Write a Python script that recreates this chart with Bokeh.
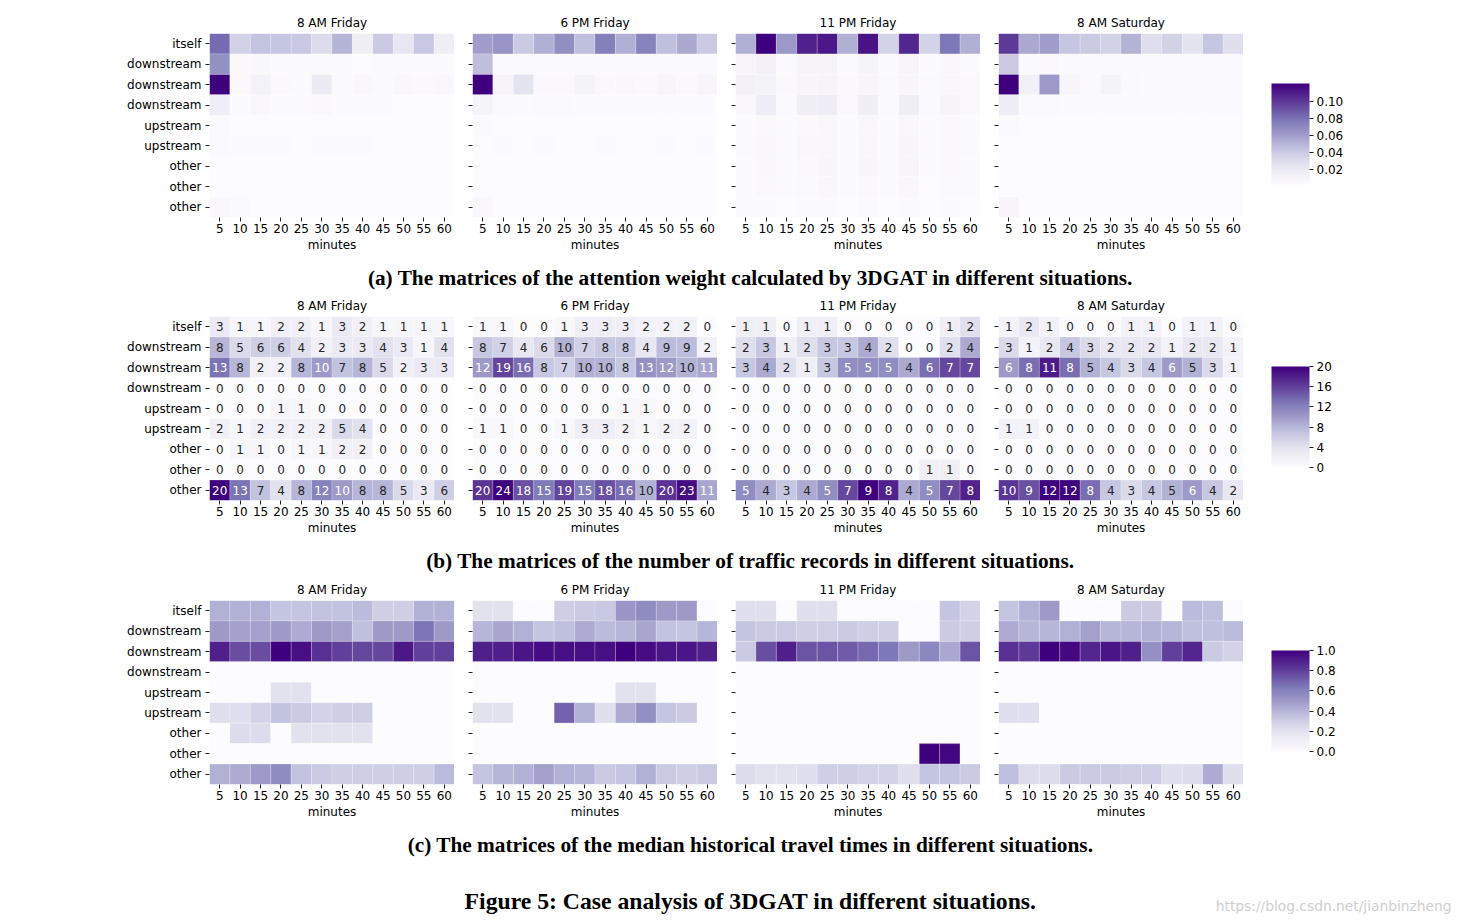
import numpy as np
from bokeh.plotting import figure
from bokeh.layouts import row, column
from bokeh.models import (ColumnDataSource, LinearColorMapper, ColorBar, FixedTicker,
                          Range1d, PrintfTickFormatter, Spacer)
from bokeh.core.properties import value
from bokeh.palettes import Purples9
from bokeh.embed import file_html
from bokeh.resources import INLINE

# ---------------- data ----------------
minutes = [5, 10, 15, 20, 25, 30, 35, 40, 45, 50, 55, 60]
row_labels = ["itself", "downstream", "downstream", "downstream",
              "upstream", "upstream", "other", "other", "other"]
panel_titles = ["8 AM Friday", "6 PM Friday", "11 PM Friday", "8 AM Saturday"]
captions = [
    "(a) The matrices of the attention weight calculated by 3DGAT in different situations.",
    "(b) The matrices of the number of traffic records in different situations.",
    "(c) The matrices of the median historical travel times in different situations.",
]
figure_caption = "Figure 5: Case analysis of 3DGAT in different situations."
watermark = "https://blog.csdn.net/jianbinzheng"

# (a) attention weights
attn_8am_fri = [
    [0.082, 0.036, 0.043, 0.042, 0.041, 0.030, 0.050, 0.016, 0.040, 0.022, 0.041, 0.016],
    [0.067, 0.005, 0.007, 0.004, 0.004, 0.004, 0.004, 0.002, 0.004, 0.003, 0.003, 0.003],
    [0.121, 0.005, 0.012, 0.005, 0.004, 0.019, 0.004, 0.006, 0.004, 0.006, 0.005, 0.006],
    [0.017, 0.003, 0.006, 0.003, 0.003, 0.005, 0.003, 0.003, 0.003, 0.002, 0.002, 0.002],
    [0.004, 0.002, 0.002, 0.002, 0.002, 0.002, 0.002, 0.002, 0.002, 0.002, 0.002, 0.002],
    [0.004, 0.003, 0.003, 0.003, 0.002, 0.003, 0.003, 0.003, 0.002, 0.002, 0.002, 0.002],
    [0.002, 0.002, 0.002, 0.002, 0.002, 0.002, 0.002, 0.002, 0.002, 0.002, 0.002, 0.002],
    [0.002, 0.002, 0.002, 0.002, 0.002, 0.002, 0.002, 0.002, 0.002, 0.002, 0.002, 0.002],
    [0.006, 0.004, 0.002, 0.002, 0.002, 0.002, 0.002, 0.002, 0.002, 0.002, 0.002, 0.002],
]
attn_6pm_fri = [
    [0.059, 0.063, 0.039, 0.051, 0.066, 0.044, 0.073, 0.051, 0.071, 0.044, 0.054, 0.039],
    [0.045, 0.004, 0.004, 0.004, 0.004, 0.004, 0.004, 0.004, 0.004, 0.004, 0.004, 0.004],
    [0.118, 0.009, 0.024, 0.005, 0.005, 0.011, 0.005, 0.006, 0.005, 0.008, 0.005, 0.008],
    [0.010, 0.004, 0.003, 0.004, 0.004, 0.003, 0.003, 0.003, 0.003, 0.003, 0.003, 0.003],
    [0.003, 0.002, 0.002, 0.002, 0.002, 0.002, 0.002, 0.002, 0.002, 0.002, 0.002, 0.002],
    [0.002, 0.003, 0.002, 0.003, 0.002, 0.002, 0.003, 0.002, 0.002, 0.003, 0.002, 0.003],
    [0.002, 0.002, 0.002, 0.002, 0.002, 0.002, 0.002, 0.002, 0.002, 0.002, 0.002, 0.002],
    [0.002, 0.002, 0.002, 0.002, 0.002, 0.002, 0.002, 0.002, 0.002, 0.002, 0.002, 0.002],
    [0.006, 0.002, 0.002, 0.002, 0.002, 0.002, 0.002, 0.002, 0.002, 0.002, 0.002, 0.002],
]
attn_11pm_fri = [
    [0.051, 0.118, 0.061, 0.106, 0.109, 0.051, 0.111, 0.034, 0.104, 0.034, 0.076, 0.051],
    [0.008, 0.012, 0.004, 0.009, 0.009, 0.004, 0.010, 0.003, 0.008, 0.003, 0.006, 0.004],
    [0.012, 0.011, 0.005, 0.008, 0.009, 0.005, 0.008, 0.004, 0.007, 0.004, 0.006, 0.005],
    [0.006, 0.017, 0.004, 0.015, 0.017, 0.005, 0.015, 0.004, 0.016, 0.004, 0.009, 0.005],
    [0.003, 0.005, 0.003, 0.005, 0.006, 0.003, 0.006, 0.003, 0.006, 0.003, 0.005, 0.003],
    [0.004, 0.006, 0.003, 0.006, 0.006, 0.003, 0.006, 0.003, 0.007, 0.003, 0.005, 0.004],
    [0.003, 0.006, 0.003, 0.005, 0.007, 0.003, 0.007, 0.003, 0.008, 0.003, 0.005, 0.003],
    [0.003, 0.005, 0.003, 0.004, 0.006, 0.003, 0.005, 0.003, 0.006, 0.002, 0.004, 0.003],
    [0.003, 0.003, 0.002, 0.003, 0.003, 0.002, 0.004, 0.002, 0.003, 0.002, 0.003, 0.002],
]
attn_8am_sat = [
    [0.097, 0.054, 0.059, 0.041, 0.039, 0.035, 0.050, 0.028, 0.035, 0.024, 0.041, 0.027],
    [0.039, 0.004, 0.005, 0.004, 0.004, 0.004, 0.004, 0.004, 0.004, 0.004, 0.004, 0.004],
    [0.118, 0.014, 0.061, 0.008, 0.004, 0.011, 0.004, 0.003, 0.004, 0.004, 0.004, 0.004],
    [0.017, 0.004, 0.004, 0.003, 0.003, 0.003, 0.003, 0.003, 0.003, 0.003, 0.003, 0.003],
    [0.004, 0.002, 0.002, 0.002, 0.002, 0.002, 0.002, 0.002, 0.002, 0.002, 0.002, 0.002],
    [0.002, 0.002, 0.002, 0.002, 0.002, 0.002, 0.002, 0.002, 0.002, 0.002, 0.002, 0.002],
    [0.002, 0.002, 0.002, 0.002, 0.002, 0.002, 0.002, 0.002, 0.002, 0.002, 0.002, 0.002],
    [0.002, 0.002, 0.002, 0.002, 0.002, 0.002, 0.002, 0.002, 0.002, 0.002, 0.002, 0.002],
    [0.008, 0.002, 0.002, 0.002, 0.002, 0.002, 0.002, 0.002, 0.002, 0.002, 0.002, 0.002],
]

# (b) number of traffic records
count_8am_fri = [
    [3, 1, 1, 2, 2, 1, 3, 2, 1, 1, 1, 1],
    [8, 5, 6, 6, 4, 2, 3, 3, 4, 3, 1, 4],
    [13, 8, 2, 2, 8, 10, 7, 8, 5, 2, 3, 3],
    [0, 0, 0, 0, 0, 0, 0, 0, 0, 0, 0, 0],
    [0, 0, 0, 1, 1, 0, 0, 0, 0, 0, 0, 0],
    [2, 1, 2, 2, 2, 2, 5, 4, 0, 0, 0, 0],
    [0, 1, 1, 0, 1, 1, 2, 2, 0, 0, 0, 0],
    [0, 0, 0, 0, 0, 0, 0, 0, 0, 0, 0, 0],
    [20, 13, 7, 4, 8, 12, 10, 8, 8, 5, 3, 6],
]
count_6pm_fri = [
    [1, 1, 0, 0, 1, 3, 3, 3, 2, 2, 2, 0],
    [8, 7, 4, 6, 10, 7, 8, 8, 4, 9, 9, 2],
    [12, 19, 16, 8, 7, 10, 10, 8, 13, 12, 10, 11],
    [0, 0, 0, 0, 0, 0, 0, 0, 0, 0, 0, 0],
    [0, 0, 0, 0, 0, 0, 0, 1, 1, 0, 0, 0],
    [1, 1, 0, 0, 1, 3, 3, 2, 1, 2, 2, 0],
    [0, 0, 0, 0, 0, 0, 0, 0, 0, 0, 0, 0],
    [0, 0, 0, 0, 0, 0, 0, 0, 0, 0, 0, 0],
    [20, 24, 18, 15, 19, 15, 18, 16, 10, 20, 23, 11],
]
count_11pm_fri = [
    [1, 1, 0, 1, 1, 0, 0, 0, 0, 0, 1, 2],
    [2, 3, 1, 2, 3, 3, 4, 2, 0, 0, 2, 4],
    [3, 4, 2, 1, 3, 5, 5, 5, 4, 6, 7, 7],
    [0, 0, 0, 0, 0, 0, 0, 0, 0, 0, 0, 0],
    [0, 0, 0, 0, 0, 0, 0, 0, 0, 0, 0, 0],
    [0, 0, 0, 0, 0, 0, 0, 0, 0, 0, 0, 0],
    [0, 0, 0, 0, 0, 0, 0, 0, 0, 0, 0, 0],
    [0, 0, 0, 0, 0, 0, 0, 0, 0, 1, 1, 0],
    [5, 4, 3, 4, 5, 7, 9, 8, 4, 5, 7, 8],
]
count_8am_sat = [
    [1, 2, 1, 0, 0, 0, 1, 1, 0, 1, 1, 0],
    [3, 1, 2, 4, 3, 2, 2, 2, 1, 2, 2, 1],
    [6, 8, 11, 8, 5, 4, 3, 4, 6, 5, 3, 1],
    [0, 0, 0, 0, 0, 0, 0, 0, 0, 0, 0, 0],
    [0, 0, 0, 0, 0, 0, 0, 0, 0, 0, 0, 0],
    [1, 1, 0, 0, 0, 0, 0, 0, 0, 0, 0, 0],
    [0, 0, 0, 0, 0, 0, 0, 0, 0, 0, 0, 0],
    [0, 0, 0, 0, 0, 0, 0, 0, 0, 0, 0, 0],
    [10, 9, 12, 12, 8, 4, 3, 4, 5, 6, 4, 2],
]

# (c) median historical travel times (normalised)
time_8am_fri = [
    [0.42, 0.42, 0.42, 0.34, 0.34, 0.35, 0.35, 0.38, 0.30, 0.30, 0.42, 0.42],
    [0.50, 0.48, 0.48, 0.50, 0.44, 0.50, 0.48, 0.36, 0.50, 0.50, 0.65, 0.50],
    [0.90, 0.76, 0.76, 1.00, 0.95, 0.85, 0.80, 0.78, 0.78, 0.92, 0.80, 0.80],
    [0.0, 0.0, 0.0, 0.0, 0.0, 0.0, 0.0, 0.0, 0.0, 0.0, 0.0, 0.0],
    [0.0, 0.0, 0.0, 0.20, 0.20, 0.0, 0.0, 0.0, 0.0, 0.0, 0.0, 0.0],
    [0.22, 0.22, 0.28, 0.35, 0.32, 0.28, 0.30, 0.30, 0.0, 0.0, 0.0, 0.0],
    [0.0, 0.24, 0.24, 0.0, 0.20, 0.20, 0.20, 0.20, 0.0, 0.0, 0.0, 0.0],
    [0.0, 0.0, 0.0, 0.0, 0.0, 0.0, 0.0, 0.0, 0.0, 0.0, 0.0, 0.0],
    [0.42, 0.44, 0.50, 0.56, 0.35, 0.32, 0.30, 0.30, 0.30, 0.30, 0.30, 0.38],
]
time_6pm_fri = [
    [0.20, 0.20, 0.0, 0.0, 0.30, 0.32, 0.33, 0.52, 0.56, 0.50, 0.50, 0.0],
    [0.40, 0.46, 0.42, 0.34, 0.36, 0.44, 0.38, 0.40, 0.46, 0.35, 0.34, 0.40],
    [0.90, 0.90, 0.93, 0.96, 0.95, 0.95, 0.95, 1.00, 0.96, 0.93, 0.93, 0.90],
    [0.0, 0.0, 0.0, 0.0, 0.0, 0.0, 0.0, 0.0, 0.0, 0.0, 0.0, 0.0],
    [0.0, 0.0, 0.0, 0.0, 0.0, 0.0, 0.0, 0.20, 0.20, 0.0, 0.0, 0.0],
    [0.20, 0.20, 0.0, 0.0, 0.70, 0.42, 0.22, 0.44, 0.55, 0.34, 0.32, 0.0],
    [0.0, 0.0, 0.0, 0.0, 0.0, 0.0, 0.0, 0.0, 0.0, 0.0, 0.0, 0.0],
    [0.0, 0.0, 0.0, 0.0, 0.0, 0.0, 0.0, 0.0, 0.0, 0.0, 0.0, 0.0],
    [0.34, 0.40, 0.42, 0.48, 0.42, 0.40, 0.32, 0.34, 0.42, 0.32, 0.30, 0.32],
]
time_11pm_fri = [
    [0.22, 0.22, 0.0, 0.22, 0.22, 0.0, 0.0, 0.0, 0.0, 0.0, 0.34, 0.28],
    [0.34, 0.32, 0.32, 0.30, 0.30, 0.32, 0.30, 0.30, 0.0, 0.0, 0.32, 0.30],
    [0.32, 0.76, 0.90, 0.74, 0.74, 0.72, 0.68, 0.64, 0.50, 0.58, 0.45, 0.74],
    [0.0, 0.0, 0.0, 0.0, 0.0, 0.0, 0.0, 0.0, 0.0, 0.0, 0.0, 0.0],
    [0.0, 0.0, 0.0, 0.0, 0.0, 0.0, 0.0, 0.0, 0.0, 0.0, 0.0, 0.0],
    [0.0, 0.0, 0.0, 0.0, 0.0, 0.0, 0.0, 0.0, 0.0, 0.0, 0.0, 0.0],
    [0.0, 0.0, 0.0, 0.0, 0.0, 0.0, 0.0, 0.0, 0.0, 0.0, 0.0, 0.0],
    [0.0, 0.0, 0.0, 0.0, 0.0, 0.0, 0.0, 0.0, 0.0, 1.00, 0.98, 0.0],
    [0.24, 0.20, 0.20, 0.22, 0.30, 0.30, 0.28, 0.28, 0.22, 0.34, 0.34, 0.32],
]
time_8am_sat = [
    [0.34, 0.42, 0.50, 0.0, 0.0, 0.0, 0.32, 0.32, 0.0, 0.38, 0.36, 0.0],
    [0.44, 0.40, 0.40, 0.42, 0.48, 0.40, 0.40, 0.42, 0.40, 0.36, 0.36, 0.38],
    [0.85, 0.82, 1.00, 0.97, 0.88, 0.93, 0.90, 0.54, 0.80, 0.88, 0.32, 0.28],
    [0.0, 0.0, 0.0, 0.0, 0.0, 0.0, 0.0, 0.0, 0.0, 0.0, 0.0, 0.0],
    [0.0, 0.0, 0.0, 0.0, 0.0, 0.0, 0.0, 0.0, 0.0, 0.0, 0.0, 0.0],
    [0.22, 0.22, 0.0, 0.0, 0.0, 0.0, 0.0, 0.0, 0.0, 0.0, 0.0, 0.0],
    [0.0, 0.0, 0.0, 0.0, 0.0, 0.0, 0.0, 0.0, 0.0, 0.0, 0.0, 0.0],
    [0.0, 0.0, 0.0, 0.0, 0.0, 0.0, 0.0, 0.0, 0.0, 0.0, 0.0, 0.0],
    [0.36, 0.24, 0.24, 0.32, 0.32, 0.32, 0.30, 0.30, 0.22, 0.24, 0.44, 0.22],
]

attn_panels = [attn_8am_fri, attn_6pm_fri, attn_11pm_fri, attn_8am_sat]
count_panels = [count_8am_fri, count_6pm_fri, count_11pm_fri, count_8am_sat]
time_panels = [time_8am_fri, time_6pm_fri, time_11pm_fri, time_8am_sat]

attn_cbar = dict(low=0.002, high=0.121, ticks=[0.02, 0.04, 0.06, 0.08, 0.10], fmt="%.2f")
count_cbar = dict(low=0, high=20, ticks=[0, 4, 8, 12, 16, 20], fmt="%d")
time_cbar = dict(low=0.0, high=1.0, ticks=[0.0, 0.2, 0.4, 0.6, 0.8, 1.0], fmt="%.1f")

# ---------------- styling ----------------
FONT = "DejaVu Sans"
SERIF = "Liberation Serif"
TXT = "#000000"

# matplotlib-like "Purples" colormap (light -> dark), 256 steps
_base = list(reversed(Purples9))
_rgb = np.array([[int(c[i:i + 2], 16) for i in (1, 3, 5)] for c in _base], float)
_pos = np.linspace(0, 1, len(_base))
_t = np.linspace(0, 1, 256)
PAL = ["#%02x%02x%02x" % tuple(int(round(np.interp(tt, _pos, _rgb[:, k]))) for k in range(3)) for tt in _t]


def _lum(hexc):
    rgb = [int(hexc[i:i + 2], 16) / 255 for i in (1, 3, 5)]
    lin = [c / 12.92 if c <= 0.04045 else ((c + 0.055) / 1.055) ** 2.4 for c in rgb]
    return 0.2126 * lin[0] + 0.7152 * lin[1] + 0.0722 * lin[2]


def text_color(v, lo, hi):
    f = (v - lo) / (hi - lo) if hi > lo else 0
    idx = int(min(255, max(0, f * 256)))
    return "#ffffff" if _lum(PAL[idx]) < 0.408 else "#262626"


BAND_H = 246
FRAME_W = 245
GAP = 18
FIRST_LEFT = 201
TOP = 25
BOTTOM = 37


def heat_panel(data, title, first, annotate=False):
    left = FIRST_LEFT if first else GAP
    p = figure(width=left + FRAME_W, height=BAND_H,
               x_range=Range1d(2.5, 62.5), y_range=Range1d(8.5, -0.5),
               output_backend="svg", toolbar_location=None, tools="",
               min_border_left=left, min_border_right=0,
               min_border_top=TOP, min_border_bottom=BOTTOM)
    p.title.text = title
    p.title.align = "center"
    p.title.text_font = FONT
    p.title.text_font_size = "12px"
    p.title.text_font_style = "normal"
    p.title.text_color = TXT
    p.title.standoff = 8
    p.outline_line_color = None
    p.grid.visible = False
    p.background_fill_color = "white"
    p.border_fill_color = "white"

    vals = [v for r in data for v in r]
    lo, hi = min(vals), max(vals)
    mapper = LinearColorMapper(palette=PAL, low=lo, high=hi)
    xs, ys, vs, txt, tc = [], [], [], [], []
    for r, rowvals in enumerate(data):
        for c, v in enumerate(rowvals):
            xs.append(minutes[c])
            ys.append(r)
            vs.append(v)
            txt.append(str(v))
            tc.append(text_color(v, lo, hi))
    src = ColumnDataSource(dict(x=xs, y=ys, v=vs, t=txt, tc=tc))
    p.rect(x="x", y="y", width=5, height=1, source=src,
           fill_color={"field": "v", "transform": mapper},
           line_color="white", line_alpha=0.35, line_width=0.6)
    if annotate:
        p.text(x="x", y="y", text="t", source=src, text_color="tc",
               text_align="center", text_baseline="middle",
               text_font=value(FONT), text_font_size="12px")

    xa = p.xaxis[0]
    xa.ticker = FixedTicker(ticks=minutes)
    xa.axis_label = "minutes"
    xa.axis_label_text_font = FONT
    xa.axis_label_text_font_size = "12px"
    xa.axis_label_text_font_style = "normal"
    xa.axis_label_text_color = TXT
    xa.axis_label_standoff = 2
    ya = p.yaxis[0]
    ya.ticker = FixedTicker(ticks=list(range(len(row_labels))))
    ya.major_label_overrides = {i: (lab if first else "") for i, lab in enumerate(row_labels)}
    for ax in (xa, ya):
        ax.axis_line_color = None
        ax.major_tick_in = 0
        ax.major_tick_out = 4
        ax.major_tick_line_color = "#222222"
        ax.minor_tick_line_color = None
        ax.major_label_text_font = FONT
        ax.major_label_text_font_size = "12px"
        ax.major_label_text_color = TXT
    xa.major_label_standoff = 2
    ya.major_label_standoff = 4
    return p


def cbar_fig(spec, width=205):
    p = figure(width=width, height=BAND_H, x_range=Range1d(0, 1), y_range=Range1d(0, 1),
               output_backend="svg", toolbar_location=None, tools="",
               min_border_left=0, min_border_right=0, min_border_top=0, min_border_bottom=0)
    p.axis.visible = False
    p.grid.visible = False
    p.outline_line_color = None
    mapper = LinearColorMapper(palette=PAL, low=spec["low"], high=spec["high"])
    bar_h = 101
    cb = ColorBar(color_mapper=mapper, width=38, height=bar_h,
                  location=(28, 33), padding=0, margin=0,
                  ticker=FixedTicker(ticks=spec["ticks"]),
                  formatter=PrintfTickFormatter(format=spec["fmt"]),
                  major_tick_in=0, major_tick_out=4, major_tick_line_color="#222222",
                  minor_tick_line_color=None, bar_line_color=None, border_line_color=None,
                  label_standoff=3, major_label_text_font=FONT,
                  major_label_text_font_size="12px", major_label_text_color=TXT,
                  background_fill_alpha=0)
    p.add_layout(cb)
    return p


def caption_fig(text, height, y_from_top, size, width=1435, extra=None):
    p = figure(width=width, height=height, x_range=Range1d(0, width), y_range=Range1d(0, height),
               output_backend="svg", toolbar_location=None, tools="",
               min_border_left=0, min_border_right=0, min_border_top=0, min_border_bottom=0)
    p.axis.visible = False
    p.grid.visible = False
    p.outline_line_color = None
    p.text(x=[742], y=[height - y_from_top], text=[text], text_align="center",
           text_baseline="middle", text_font=value(SERIF), text_font_style="bold",
           text_font_size=size, text_color=TXT)
    if extra is not None:
        p.text(x=[width - 1], y=[height - 35], text=[extra], text_align="right",
               text_baseline="middle", text_font=value(FONT), text_font_size="13.8px",
               text_color="#cfcfcf")
    return p


def band(panels, spec, annotate=False):
    figs = [heat_panel(d, t, i == 0, annotate) for i, (d, t) in enumerate(zip(panels, panel_titles))]
    figs.append(cbar_fig(spec))
    return row(*figs, spacing=0)


inner = column(
    band(attn_panels, attn_cbar),
    caption_fig(captions[0], 37, 23, "21.3px"),
    band(count_panels, count_cbar, annotate=True),
    caption_fig(captions[1], 38, 23, "21.3px"),
    band(time_panels, time_cbar),
    caption_fig(captions[2], 49, 23, "21.3px"),
    caption_fig(figure_caption, 46, 30, "23.7px", width=1444, extra=watermark),
    spacing=0,
)
layout = column(Spacer(height=8), row(Spacer(width=8), inner, spacing=0), spacing=0)

open("out.html", "w").write(file_html(layout, INLINE, title="Figure 5"))
